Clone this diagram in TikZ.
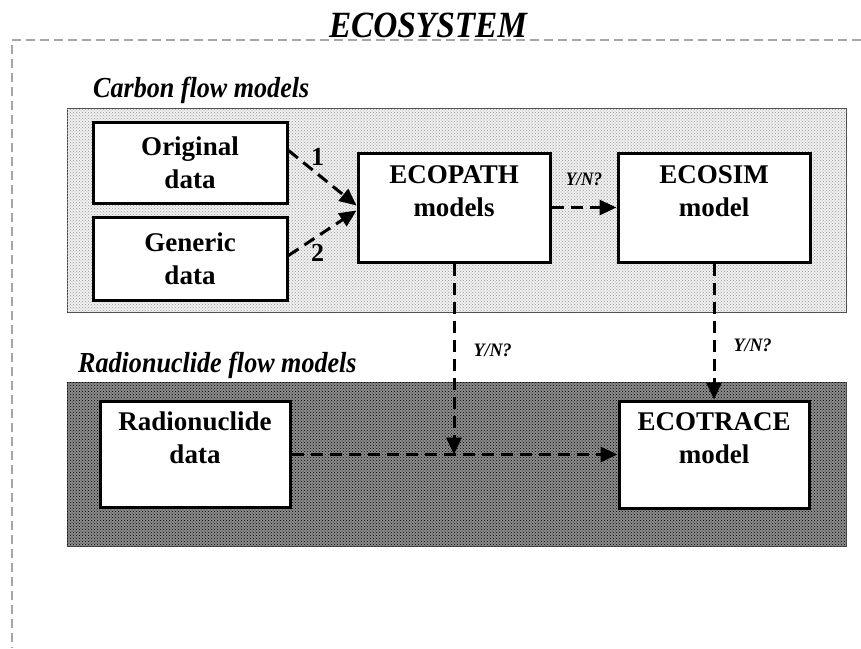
\documentclass[tikz,border=0pt]{standalone}
\usepackage{fontspec}
\setmainfont{Liberation Serif}
\usetikzlibrary{arrows.meta}
\usetikzlibrary{patterns}

\begin{document}
\begin{tikzpicture}[x=1pt,y=-1pt] %% pixel grid, y runs down
	\tikzstyle{modelbox}=[rectangle,draw=black,fill=white,line width=3pt,align=center,inner sep=0pt,font=\fontsize{27}{33}\selectfont\bfseries];
	\tikzstyle{flow}=[line width=3pt,dash pattern=on 12pt off 7pt,-{Triangle[length=17pt,width=15pt]}];
	\tikzstyle{yn}=[font=\fontsize{19}{22}\selectfont\bfseries\itshape,inner sep=0pt];
	\tikzstyle{digit}=[font=\fontsize{26}{28}\selectfont\bfseries,inner sep=0pt];
	\tikzstyle{heading}=[font=\fontsize{29}{32}\selectfont\bfseries\itshape,inner sep=0pt,anchor=base west];
	\useasboundingbox (0,0) rectangle (861,648);
	% ecosystem frame
	\draw[gray!70,line width=1.5pt,dash pattern=on 9pt off 5pt] (861,40) -- (12,40) -- (12,648);
	\node[font=\fontsize{37}{40}\selectfont\bfseries\itshape,inner sep=0pt,anchor=base] (title) at (428,37) {\scalebox{0.9}[1]{ECOSYSTEM}};
	% shaded layers
	\draw[black!70,fill=gray!12,postaction={pattern=crosshatch dots,pattern color=gray!80}] (67,108) rectangle (846,312);
	\draw[black!70,fill=black!45,postaction={pattern=crosshatch dots,pattern color=black}] (67,382) rectangle (846,546);
	\node[heading] (carbon) at (93,97) {\scalebox{0.9}[1]{Carbon flow models}};
	\node[heading] (radionuclide) at (78,372) {\scalebox{0.9}[1]{Radionuclide flow models}};
	% boxes
	\node[modelbox,minimum width=194pt,minimum height=81pt]  (orig)     at (190,162.5) {Original\\data};
	\node[modelbox,minimum width=194pt,minimum height=83pt]  (gen)      at (190,258.5) {Generic\\data};
	\node[modelbox,minimum width=192pt,minimum height=109pt] (ecopath)  at (454,207.5) {ECOPATH\\models\\~};
	\node[modelbox,minimum width=192pt,minimum height=109pt] (ecosim)   at (714,207.5) {ECOSIM\\model\\~};
	\node[modelbox,minimum width=190pt,minimum height=106pt] (radio)    at (195,454.5) {Radionuclide\\data\\~};
	\node[modelbox,minimum width=190pt,minimum height=107pt] (ecotrace) at (714,454.5) {ECOTRACE\\model\\~};
	\coordinate (join) at (ecopath.south |- radio.east);
	% flows
	\draw[flow] ([yshift=12pt]orig.east) -- node[digit,pos=0.43,above=7pt]{1} ([yshift=2pt]ecopath.west);
	\draw[flow] ([yshift=3pt]gen.east) -- node[digit,pos=0.43,below=7pt]{2} ([yshift=-3pt]ecopath.west);
	\path (ecopath) edge[flow] node[yn,above=20pt]{\scalebox{0.9}[1]{Y/N?}} (ecosim);
	\draw[flow] (ecopath.south) -- node[yn,pos=0.455,right=18pt]{\scalebox{0.95}[1]{Y/N?}} (join);
	\path (ecosim) edge[flow] node[yn,pos=0.6,right=18pt]{\scalebox{0.95}[1]{Y/N?}} (ecotrace);
	\path (radio) edge[flow] (ecotrace);
\end{tikzpicture}
\end{document}
